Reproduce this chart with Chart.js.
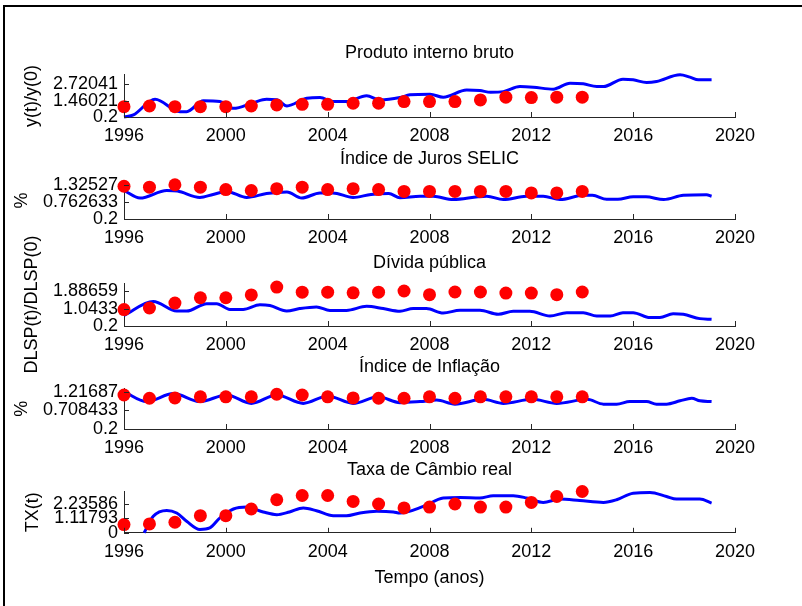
<!DOCTYPE html>
<html>
<head>
<meta charset="utf-8">
<script src="https://cdn.jsdelivr.net/npm/chart.js@4.4.0/dist/chart.umd.min.js"></script>
<style>
  body { margin: 0; background: #fff; width: 802px; height: 606px; overflow: hidden; position: relative; }
  .frame { position: absolute; left: 3px; top: 5px; width: 830px; height: 640px; border: 2px solid #000; }
  canvas { position: absolute; left: 0; }
</style>
</head>
<body>
<div class="frame"></div>
<canvas id="p1"></canvas>
<canvas id="p2"></canvas>
<canvas id="p3"></canvas>
<canvas id="p4"></canvas>
<canvas id="p5"></canvas>
<script>
// --- DATA ---

// observed (red dots), one value per year
const obsYears = [1996, 1997, 1998, 1999, 2000, 2001, 2002, 2003, 2004, 2005,
                  2006, 2007, 2008, 2009, 2010, 2011, 2012, 2013, 2014];

const pibObs    = [1.0, 1.05, 1.0, 1.0, 1.0, 1.05, 1.13, 1.18, 1.18, 1.26, 1.26, 1.39, 1.39, 1.39, 1.52, 1.73, 1.70, 1.73, 1.73];
const selicObs  = [1.28, 1.25, 1.33, 1.25, 1.17, 1.14, 1.20, 1.25, 1.17, 1.20, 1.17, 1.11, 1.11, 1.11, 1.11, 1.11, 1.06, 1.06, 1.11];
const dividaObs = [1.0, 1.08, 1.32, 1.58, 1.58, 1.72, 2.10, 1.85, 1.85, 1.82, 1.85, 1.91, 1.73, 1.86, 1.86, 1.81, 1.81, 1.73, 1.86];
const inflObs   = [1.13, 1.04, 1.05, 1.08, 1.08, 1.08, 1.15, 1.13, 1.08, 1.05, 1.04, 1.04, 1.08, 1.04, 1.08, 1.08, 1.08, 1.08, 1.08];
const cambioObs = [0.64, 0.69, 0.82, 1.33, 1.33, 1.85, 2.57, 2.90, 2.90, 2.44, 2.24, 1.93, 2.0, 2.24, 2.0, 2.0, 2.36, 2.82, 3.21];

// simulated (blue line), read at peaks / troughs
const pibSimT = [1996.0, 1996.37, 1997.22, 1998.2, 1998.46, 1999.12, 1999.77, 2000.3, 2001.08, 2001.6, 2002.0, 2002.4,
                 2003.18, 2003.7, 2004.22, 2004.74, 2005.53, 2006.05, 2006.84, 2007.23, 2008.02, 2008.54, 2009.46, 2009.98,
                 2010.4, 2010.9, 2011.55, 2012.08, 2012.86, 2013.52, 2014.04, 2014.57, 2014.83, 2015.6, 2016.0, 2016.53,
                 2016.92, 2017.84, 2018.23, 2018.56, 2019.08];
const pibSim  = [0.2, 0.36, 1.57, 0.61, 0.61, 1.46, 1.39, 0.87, 1.31, 1.57, 1.54, 1.05,
                 1.65, 1.70, 1.39, 1.39, 1.85, 1.52, 1.70, 1.91, 1.96, 1.73, 2.29, 2.24,
                 2.11, 2.16, 2.55, 2.50, 2.35, 2.81, 2.76, 2.55, 2.55, 3.12, 3.07, 2.86,
                 2.94, 3.46, 3.28, 3.07, 3.07];

const selicSimT = [1996.0, 1996.63, 1997.68, 1998.1, 1998.98, 1999.5, 2000.03, 2000.82, 2001.6, 2002.4, 2002.98, 2003.7,
                   2004.2, 2005.0, 2005.7, 2006.4, 2006.84, 2007.63, 2008.15, 2008.93, 2009.9, 2010.25, 2010.9, 2011.8,
                   2012.47, 2013.12, 2014.04, 2014.4, 2014.96, 2015.4, 2016.0, 2016.5, 2017.2, 2017.97, 2018.88, 2019.08];
const selicSim  = [1.14, 0.89, 1.14, 1.12, 0.91, 1.01, 1.11, 0.91, 1.04, 1.09, 0.89, 1.06,
                   1.06, 0.91, 1.01, 1.04, 0.90, 0.95, 0.95, 0.84, 0.93, 0.95, 0.84, 0.95,
                   0.95, 0.84, 0.98, 0.98, 0.85, 0.85, 0.93, 0.93, 0.84, 0.98, 1.0, 0.95];

const dividaSimT = [1996.0, 1997.15, 1998.07, 1998.46, 1999.25, 1999.64, 2000.16, 2000.68, 2001.34, 2001.73, 2002.39, 2002.9,
                    2003.56, 2004.09, 2004.74, 2005.53, 2006.18, 2006.84, 2007.36, 2007.88, 2008.54, 2009.2, 2009.98, 2010.7,
                    2011.29, 2011.94, 2012.73, 2013.39, 2014.04, 2014.57, 2015.1, 2015.6, 2016.0, 2016.66, 2017.05, 2017.57,
                    2017.97, 2018.62, 2019.08];
const dividaSim  = [0.72, 1.40, 0.93, 0.93, 1.29, 1.29, 1.01, 1.01, 1.24, 1.20, 0.93, 1.05,
                    1.13, 0.96, 0.96, 1.16, 1.05, 0.92, 1.05, 1.05, 0.83, 0.97, 0.97, 0.77,
                    0.92, 0.92, 0.69, 0.85, 0.85, 0.69, 0.69, 0.85, 0.85, 0.61, 0.61, 0.80,
                    0.77, 0.56, 0.53];

const inflSimT = [1996.0, 1996.89, 1997.94, 1998.98, 2000.03, 2001.0, 2002.0, 2003.04, 2004.0, 2005.0, 2005.99, 2006.84,
                  2007.63, 2008.28, 2009.0, 2010.11, 2010.9, 2012.04, 2013.0, 2014.2, 2014.83, 2015.35, 2015.87, 2016.53,
                  2016.92, 2017.31, 2017.84, 2018.3, 2018.62, 2019.08];
const inflSim  = [1.22, 0.95, 1.17, 0.95, 1.13, 0.90, 1.13, 0.90, 1.10, 0.90, 1.08, 0.92,
                  0.95, 0.99, 0.88, 1.01, 0.90, 1.01, 0.90, 1.01, 0.88, 0.88, 0.95, 0.95,
                  0.88, 0.88, 0.97, 1.04, 0.97, 0.95];

const cambioSimT = [1996.79, 1997.15, 1997.68, 1998.07, 1998.46, 1998.98, 1999.37, 1999.77, 2000.3, 2000.82, 2001.47, 2002.0,
                    2002.5, 2003.04, 2003.56, 2004.22, 2004.74, 2005.27, 2005.93, 2006.58, 2006.84, 2007.76, 2008.54, 2009.2,
                    2009.98, 2010.5, 2011.29, 2011.82, 2012.47, 2013.12, 2013.9, 2014.83, 2015.35, 2016.0, 2016.66, 2017.31,
                    2017.7, 2018.62, 2019.08];
const cambioSim  = [0, 1.28, 1.74, 1.54, 0.90, 0.26, 0.38, 1.16, 1.85, 2.0, 1.62, 1.41,
                    1.62, 1.93, 1.72, 1.33, 1.33, 1.54, 1.67, 1.62, 1.54, 2.05, 2.70, 2.74,
                    2.70, 2.88, 2.88, 2.70, 2.36, 2.62, 2.51, 2.36, 2.57, 3.08, 3.13, 2.82,
                    2.62, 2.62, 2.31];

// y tick labels (as printed) per panel
const pibTicks    = ['0.2', '1.46021', '2.72041'];
const selicTicks  = ['0.2', '0.762633', '1.32527'];
const dividaTicks = ['0.2', '1.0433', '1.88659'];
const inflTicks   = ['0.2', '0.708433', '1.21687'];
const cambioTicks = ['0', '1.11793', '2.23586'];

const xTicks = [1996, 2000, 2004, 2008, 2012, 2016, 2020];

// --- HELPERS ---

Chart.defaults.font.family = '"Liberation Sans", Arial, sans-serif';
Chart.defaults.font.size = 18;
Chart.defaults.color = '#000';

const AXIS = '#262626';

// MATLAB style ticks pointing into the plot
const innerTicks = {
    id: 'innerTicks',
    afterDraw(chart) {
        const {ctx, chartArea, scales} = chart;
        ctx.save();
        ctx.strokeStyle = AXIS;
        ctx.lineWidth = 1;
        ctx.beginPath();
        scales.x.ticks.forEach(t => {
            const px = Math.round(scales.x.getPixelForValue(t.value)) + 0.5;
            ctx.moveTo(px, chartArea.bottom);
            ctx.lineTo(px, chartArea.bottom - 5);
        });
        scales.y.ticks.forEach(t => {
            const py = Math.round(scales.y.getPixelForValue(t.value)) + 0.5;
            ctx.moveTo(chartArea.left, py);
            ctx.lineTo(chartArea.left + 5, py);
        });
        ctx.stroke();
        ctx.restore();
    }
};

function pairs(xs, ys) {
    return xs.map((x, i) => ({x: x, y: ys[i]}));
}

function makePanel(id, cfg) {
    const canvas = document.getElementById(id);
    const padTop = cfg.padTop || 0;
    const padBottom = cfg.padBottom || 0;
    canvas.width = 802;
    canvas.height = cfg.height + padTop + padBottom;
    canvas.style.top = (cfg.top - padTop) + 'px';

    new Chart(canvas, {
        type: 'line',
        data: {
            datasets: [
                {
                    data: pairs(obsYears, cfg.obs),
                    showLine: false,
                    pointRadius: 6.5,
                    pointBackgroundColor: '#ff0000',
                    pointBorderWidth: 0,
                    order: 0,
                    clip: false
                },
                {
                    data: pairs(cfg.simT, cfg.sim),
                    borderColor: '#0000ff',
                    borderWidth: 3,
                    pointRadius: 0,
                    cubicInterpolationMode: 'monotone',
                    order: 1,
                    clip: false
                }
            ]
        },
        options: {
            responsive: false,
            animation: false,
            layout: { padding: { top: padTop, left: 0, right: 67, bottom: padBottom } },
            plugins: {
                legend: { display: false },
                tooltip: { enabled: false },
                title: {
                    display: true,
                    fullSize: false,
                    text: cfg.title,
                    font: { size: 18, weight: 'normal' },
                    color: '#000',
                    padding: { top: 0, bottom: cfg.titleGap }
                }
            },
            scales: {
                x: {
                    type: 'linear',
                    min: 1996,
                    max: 2020,
                    afterBuildTicks: s => { s.ticks = xTicks.map(v => ({value: v})); },
                    ticks: { callback: v => String(v), padding: 8, maxRotation: 0, autoSkip: false },
                    grid: { display: false, drawTicks: false },
                    border: { display: true, color: AXIS, width: 1 },
                    title: cfg.xTitle ? { display: true, text: cfg.xTitle, padding: { top: 0, bottom: 0 } } : { display: false },
                    afterFit: s => { s.height = cfg.xHeight; }
                },
                y: {
                    type: 'linear',
                    min: cfg.yMin,
                    max: cfg.yMax,
                    afterBuildTicks: s => { s.ticks = cfg.ticks.map(v => ({value: parseFloat(v)})); },
                    ticks: { callback: (v, i) => cfg.ticks[i], padding: 6, autoSkip: false },
                    grid: { display: false, drawTicks: false },
                    border: { display: true, color: AXIS, width: 1 },
                    title: { display: true, text: cfg.yTitle, padding: { top: cfg.yTitlePad, bottom: 0 } },
                    afterFit: s => { s.width = 124; }
                }
            }
        },
        plugins: [innerTicks]
    });
}

// --- PANELS ---

makePanel('p1', {
    title: 'Produto interno bruto', yTitle: 'y(t)/y(0)',
    obs: pibObs, simT: pibSimT, sim: pibSim, ticks: pibTicks,
    yMin: 0.2, yMax: 3.46, top: 42, height: 105, titleGap: 11.2, xHeight: 30, yTitlePad: 21
});
makePanel('p2', {
    title: 'Índice de Juros SELIC', yTitle: '%',
    obs: selicObs, simT: selicSimT, sim: selicSim, ticks: selicTicks,
    yMin: 0.2, yMax: 1.42, top: 147.5, height: 101.5, titleGap: 12.4, xHeight: 30, yTitlePad: 11
});
makePanel('p3', {
    title: 'Dívida pública', yTitle: 'DLSP(t)/DLSP(0)',
    obs: dividaObs, simT: dividaSimT, sim: dividaSim, ticks: dividaTicks,
    yMin: 0.2, yMax: 2.30, top: 251.7, height: 104, titleGap: 9.4, xHeight: 30, yTitlePad: 21,
    padTop: 40, padBottom: 40
});
makePanel('p4', {
    title: 'Índice de Inflação', yTitle: '%',
    obs: inflObs, simT: inflSimT, sim: inflSim, ticks: inflTicks,
    yMin: 0.2, yMax: 1.31, top: 355.9, height: 103.4, titleGap: 10.8, xHeight: 30, yTitlePad: 11
});
makePanel('p5', {
    title: 'Taxa de Câmbio real', yTitle: 'TX(t)', xTitle: 'Tempo (anos)',
    obs: cambioObs, simT: cambioSimT, sim: cambioSim, ticks: cambioTicks,
    yMin: 0, yMax: 3.21, top: 459.2, height: 130.3, titleGap: 10.9, xHeight: 56.2, yTitlePad: 22
});
</script>
</body>
</html>
